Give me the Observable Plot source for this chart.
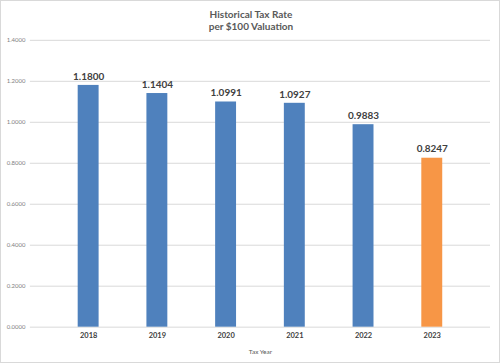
<!DOCTYPE html>
<html><head><meta charset="utf-8">
<script src="https://cdn.jsdelivr.net/npm/d3@7"></script>
<script src="https://cdn.jsdelivr.net/npm/@observablehq/plot@0.6"></script>
<style>
html,body{margin:0;padding:0;background:#fff;}
#wrap{position:relative;width:500px;height:363px;box-sizing:border-box;border:1px solid #d9d9d9;font-family:Lato,"Liberation Sans",sans-serif;overflow:hidden;}
#wrap svg{position:absolute;left:-1px;top:-1px;}
.t{position:absolute;left:0;width:500px;text-align:center;color:#595959;font-weight:bold;font-size:10px;}
</style></head><body>
<div id="wrap">
<div class="t" style="top:7px">Historical Tax Rate</div>
<div class="t" style="top:19px">per $100 Valuation</div>
</div>
<script>
const years = ["2018","2019","2020","2021","2022","2023"];
const rates = [1.1800, 1.1404, 1.0991, 1.0927, 0.9883, 0.8247];
const colors = ["#4F81BD","#4F81BD","#4F81BD","#4F81BD","#4F81BD","#F79646"];
const yTicks = [0,0.2,0.4,0.6,0.8,1.0,1.2,1.4];
const data = years.map((y,i)=>({year:y, rate:rates[i], color:colors[i]}));

const chart = Plot.plot({
  width: 500, height: 363,
  marginLeft: 30, marginRight: 8, marginTop: 40, marginBottom: 35,
  style: {fontFamily: "Lato, 'Liberation Sans', sans-serif", background: "transparent"},
  x: {domain: years, padding: 0.69, label: null},
  y: {domain: [0, 1.4], label: null},
  marks: [
    Plot.gridY(yTicks, {stroke: "#d9d9d9", strokeOpacity: 1, strokeWidth: 1}),
    Plot.axisY(yTicks, {tickSize: 0, tickPadding: 5, tickFormat: d3.format(".4f"), fontSize: 6, fill: "#7f7f7f"}),
    Plot.barY(data, {x: "year", y: "rate", fill: "color"}),
    Plot.axisX({tickSize: 0, tickPadding: 6, fontSize: 7.5, fontWeight: "bold", fill: "#404040", label: null}),
    Plot.text(data, {x: "year", y: "rate", text: d => d.rate.toFixed(4), dy: -9, fontSize: 10, fontWeight: "bold", fill: "#404040"}),
    Plot.text(["Tax Year"], {frameAnchor: "bottom", dy: 27, fontSize: 6.5, fill: "#595959"})
  ]
});
document.getElementById("wrap").prepend(chart);
</script>
</body></html>
